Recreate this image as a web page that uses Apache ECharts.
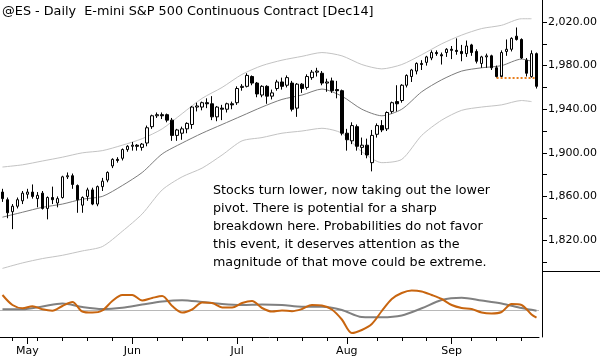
<!DOCTYPE html>
<html><head><meta charset="utf-8">
<script src="https://cdn.jsdelivr.net/npm/echarts@6/dist/echarts.min.js"></script>
<style>html,body{margin:0;padding:0;background:#fff}#c{width:600px;height:360px}</style>
</head><body><div id="c"></div>
<script>
const titleText = '@ES - Daily  E-mini S&P 500 Continuous Contract [Dec14]';
const noteText = 'Stocks turn lower, now taking out the lower\npivot. There is potential for a sharp\nbreakdown here. Probabilities do not favor\nthis event, it deserves attention as the\nmagnitude of that move could be extreme.';

const dates = [
'2014-04-24','2014-04-25','2014-04-28','2014-04-29','2014-04-30',
'2014-05-01','2014-05-02','2014-05-05','2014-05-06','2014-05-07','2014-05-08','2014-05-09','2014-05-12','2014-05-13','2014-05-14','2014-05-15','2014-05-16','2014-05-19','2014-05-20','2014-05-21','2014-05-22','2014-05-23','2014-05-27','2014-05-28','2014-05-29','2014-05-30',
'2014-06-02','2014-06-03','2014-06-04','2014-06-05','2014-06-06','2014-06-09','2014-06-10','2014-06-11','2014-06-12','2014-06-13','2014-06-16','2014-06-17','2014-06-18','2014-06-19','2014-06-20','2014-06-23','2014-06-24','2014-06-25','2014-06-26','2014-06-27','2014-06-30',
'2014-07-01','2014-07-02','2014-07-03','2014-07-07','2014-07-08','2014-07-09','2014-07-10','2014-07-11','2014-07-14','2014-07-15','2014-07-16','2014-07-17','2014-07-18','2014-07-21','2014-07-22','2014-07-23','2014-07-24','2014-07-25','2014-07-28','2014-07-29','2014-07-30','2014-07-31',
'2014-08-01','2014-08-04','2014-08-05','2014-08-06','2014-08-07','2014-08-08','2014-08-11','2014-08-12','2014-08-13','2014-08-14','2014-08-15','2014-08-18','2014-08-19','2014-08-20','2014-08-21','2014-08-22','2014-08-25','2014-08-26','2014-08-27','2014-08-28','2014-08-29',
'2014-09-02','2014-09-03','2014-09-04','2014-09-05','2014-09-08','2014-09-09','2014-09-10','2014-09-11','2014-09-12','2014-09-15','2014-09-16','2014-09-17','2014-09-18','2014-09-19','2014-09-22','2014-09-23','2014-09-24','2014-09-25'];

const opens = [1864,1857,1846,1851,1856,1862,1864,1858,1863,1849,1859,1854,1859,1878,1879,1870,1852,1860,1866,1853,1869,1875,1888,1894,1895,1903,
1906,1907,1905,1909,1924,1934,1935,1935,1930,1916,1918,1922,1926,1942,1942,1946,1945,1933,1941,1940,1945,
1946,1960,1961,1970,1964,1953,1961,1952,1959,1965,1962,1964,1941,1963,1960,1969,1974,1973,1964,1966,1958,1957,
1918,1911,1924,1905,1907,1891,1917,1925,1922,1938,1947,1948,1962,1970,1975,1982,1983,1987,1992,1990,1992,
1995,1994,1993,1991,1999,1993,1982,1988,1989,1978,1970,1993,1995,2007,2004,1985,1970,1991];
const highs = [1867,1859,1853,1859,1865,1867,1871,1864,1865,1860,1869,1860,1879,1882,1881,1871,1860,1868,1868,1870,1877,1883,1895,1896,1904,1907,
1910,1908,1909,1925,1935,1937,1937,1936,1932,1922,1924,1928,1943,1946,1947,1950,1952,1943,1944,1946,1947,
1961,1963,1973,1971,1965,1962,1962,1958,1967,1969,1971,1966,1964,1964,1972,1976,1978,1975,1968,1969,1966,1958,
1922,1928,1926,1914,1913,1921,1927,1930,1938,1947,1962,1963,1972,1977,1983,1985,1989,1994,1994,1992,1996,
1998,2005,1999,2003,2000,1995,1989,1991,1990,1980,1994,2004,2006,2015,2005,1987,1994,1992];
const lows = [1855,1840,1830,1849,1853,1858,1858,1850,1848,1839,1853,1850,1858,1876,1867,1845,1845,1856,1852,1851,1865,1873,1886,1891,1893,1901,
1902,1902,1902,1906,1922,1932,1931,1928,1911,1911,1912,1918,1922,1938,1939,1941,1930,1929,1930,1937,1940,
1944,1957,1960,1962,1951,1951,1945,1949,1957,1958,1960,1938,1933,1955,1958,1967,1970,1962,1956,1955,1950,1916,
1902,1908,1902,1898,1895,1883,1914,1919,1920,1936,1938,1946,1960,1965,1972,1976,1980,1985,1989,1981,1988,
1986,1990,1984,1988,1989,1982,1978,1978,1976,1969,1971,1989,1993,2003,1986,1970,1969,1959];
const closes = [1858,1845,1851,1857,1863,1864,1860,1861,1849,1859,1857,1858,1878,1879,1871,1857,1859,1866,1853,1869,1874,1882,1894,1893,1903,1906,
1907,1906,1908,1923,1934,1935,1934,1930,1916,1921,1922,1927,1942,1943,1946,1945,1933,1942,1940,1945,1944,
1959,1961,1971,1964,1954,1961,1952,1955,1965,1961,1969,1940,1963,1959,1970,1974,1975,1964,1965,1957,1957,1918,
1912,1925,1906,1907,1898,1916,1925,1921,1937,1946,1945,1962,1971,1976,1982,1981,1988,1992,1991,1989,1995,
1994,1993,1991,1998,1992,1984,1988,1989,1978,1970,1992,1995,2005,2004,1987,1973,1991,1961];

// Keltner-style bands, read at every 4th bar
const bandIdx = [0,4,8,12,16,20,24,28,32,36,40,44,48,52,56,60,64,68,72,76,80,84,88,92,96,100,104,106];
const upperBand = [1887,1889,1892.5,1896,1900,1902,1907,1913,1922,1936,1950,1960,1972,1980,1985,1988.5,1992,1989,1981,1977,1981,1990,2000,2008,2014,2017,2023,2023];
const midBand   = [1841,1845.5,1850,1853,1857.5,1860,1870,1882,1899,1909,1918,1926,1934,1942,1949,1953,1958.5,1952,1940,1934,1940,1956,1967,1975,1978,1980,1986,1984];
const lowerBand = [1794,1799,1803,1806,1810,1814,1828,1844,1866,1878,1886,1898,1911,1914,1918,1920,1922.5,1918,1901,1891,1894,1916,1930,1939,1942,1944,1948,1947];

// oscillator panel
const fastIdx = [0,2,4,6,8,10,12,14,16,18,20,22,24,26,28,30,32,34,36,38,40,42,44,46,48,50,52,54,56,58,60,62,64,66,68,70,72,74,76,78,80,82,84,86,88,90,92,94,96,98,100,102,104,106,107];
const fastOsc = [15,5,1.8,3.8,0.7,-0.7,4,8,-1.5,-2.6,-0.5,9,15,15,9.5,12,14,4,-2.5,0.5,7.5,7,2.5,2.5,7,9,2,-1.5,-0.5,-1.2,1,5,4.5,0.5,-9.5,-23,-20,-14,-1,11,17,19.5,18.5,15,11,5,2,1,-2.5,-3.5,-2,6,5,-4.5,-7.7];
const slowIdx = [0,4,8,12,16,20,24,28,32,36,40,44,48,52,56,60,64,68,72,76,80,84,88,92,96,100,104,107];
const slowOsc = [0.7,0.7,3.5,6.5,3,1,2.3,5.5,8.5,9.8,8,6,5,5.5,5,3.3,3.3,0,-7,-7.3,-5.5,1.7,10,12.3,9.5,6.5,2,-0.7];
const oscMin = -27, oscMax = 39;

// pivot line
const pivotLevel = 1969;
const pivotFrom = '2014-09-15';
const pivotTo = '2014-09-25';

// axis ticks
const monthTickDates = ['2014-05-01','2014-06-02','2014-07-01','2014-08-01','2014-09-02'];
const monthTickLabels = ['May','Jun','Jul','Aug','Sep'];
const weekTickDates = ['2014-04-28','2014-05-05','2014-05-12','2014-05-19','2014-05-27','2014-06-09','2014-06-16','2014-06-23','2014-07-07','2014-07-14','2014-07-21','2014-07-28','2014-08-11','2014-08-18','2014-08-25','2014-09-08','2014-09-15','2014-09-22'];
const priceLabelTicks = [1820,1860,1900,1940,1980,2020];
const priceMinorTicks = [1800,1820,1840,1860,1880,1900,1920,1940,1960,1980,2000,2020];

const FONT = 'DejaVu Sans';
const monthSet = new Set(monthTickDates.map(d => dates.indexOf(d)));
const weekSet = new Set(weekTickDates.map(d => dates.indexOf(d)));
const pairs = (idx, vals) => idx.map((k, j) => [dates[k], vals[j]]);
const fmt = v => Number(v).toLocaleString('en-US', {minimumFractionDigits: 2, maximumFractionDigits: 2});

const chart = echarts.init(document.getElementById('c'), null, {renderer: 'canvas'});
chart.setOption({
  animation: false,
  backgroundColor: '#fff',
  title: {text: titleText, left: 2, top: 3, padding: 0,
    textStyle: {fontFamily: FONT, fontSize: 12.8, fontWeight: 'normal', color: '#000', lineHeight: 18}},
  graphic: [{type: 'text', left: 213, top: 182, silent: true,
    style: {text: noteText, font: '12.7px "DejaVu Sans"', fill: '#000', lineHeight: 18}}],
  grid: [
    {left: -1, width: 540, top: 0, height: 271},
    {left: -1, width: 540, top: 271, height: 66}
  ],
  xAxis: [
    {type: 'category', gridIndex: 0, data: dates, show: false},
    {type: 'category', gridIndex: 1, data: dates, position: 'bottom', show: true,
      axisLine: {show: true, onZero: false, lineStyle: {color: '#000', width: 1, type: 'solid', opacity: 1}},
      axisTick: {show: true, interval: i => monthSet.has(i), alignWithLabel: true, length: 7, lineStyle: {color: '#000', width: 1}},
      axisLabel: {show: true, interval: i => monthSet.has(i), formatter: v => monthTickLabels[monthTickDates.indexOf(v)],
        color: '#000', fontFamily: FONT, fontSize: 11, margin: 9},
      splitLine: {show: false}},
    {type: 'category', gridIndex: 1, data: dates, position: 'bottom', show: true,
      axisLine: {show: false, onZero: false},
      axisTick: {show: true, interval: i => weekSet.has(i), alignWithLabel: true, length: 4, lineStyle: {color: '#000', width: 1}},
      axisLabel: {show: false}, splitLine: {show: false}}
  ],
  yAxis: [
    {type: 'value', gridIndex: 0, position: 'right', offset: 3, min: 1791.6, max: 2040.2,
      axisLine: {show: true, lineStyle: {color: '#000'}},
      axisTick: {show: true, customValues: priceMinorTicks, length: 5, lineStyle: {color: '#000'}},
      axisLabel: {customValues: priceLabelTicks, formatter: fmt, color: '#000', fontFamily: FONT, fontSize: 11, margin: 6},
      splitLine: {show: false}},
    {type: 'value', gridIndex: 1, position: 'right', offset: 3, min: oscMin, max: oscMax,
      axisLine: {show: true, lineStyle: {color: '#000'}},
      axisTick: {show: true, customValues: [oscMax], length: 58, lineStyle: {color: '#000'}},
      axisLabel: {show: false}, splitLine: {show: false}}
  ],
  series: [
    {type: 'line', name: 'upper', xAxisIndex: 0, yAxisIndex: 0, data: pairs(bandIdx, upperBand),
      showSymbol: false, smooth: 0.25, lineStyle: {color: '#c3c3c3', width: 1}, z: 1, silent: true},
    {type: 'line', name: 'mid', xAxisIndex: 0, yAxisIndex: 0, data: pairs(bandIdx, midBand),
      showSymbol: false, smooth: 0.25, lineStyle: {color: '#7c7c7c', width: 1}, z: 1, silent: true},
    {type: 'line', name: 'lower', xAxisIndex: 0, yAxisIndex: 0, data: pairs(bandIdx, lowerBand),
      showSymbol: false, smooth: 0.25, lineStyle: {color: '#c3c3c3', width: 1}, z: 1, silent: true},
    {type: 'candlestick', name: 'ES', xAxisIndex: 0, yAxisIndex: 0,
      data: dates.map((d, i) => [opens[i], closes[i], lows[i], highs[i]]),
      barWidth: 3, z: 3,
      itemStyle: {color: '#fff', color0: '#000', borderColor: '#000', borderColor0: '#000', borderColorDoji: '#000', borderWidth: 1},
      markLine: {silent: true, symbol: ['none', 'none'], label: {show: false},
        lineStyle: {color: '#e8801f', type: [2, 2], width: 2},
        data: [[{coord: [pivotFrom, pivotLevel]}, {coord: [pivotTo, pivotLevel]}]]}},
    {type: 'line', name: 'slow', xAxisIndex: 1, yAxisIndex: 1, data: pairs(slowIdx, slowOsc),
      showSymbol: false, smooth: 0.3, lineStyle: {color: '#808080', width: 2}, z: 2, silent: true,
      markLine: {silent: true, symbol: ['none', 'none'], label: {show: false}, z: 1,
        data: [{yAxis: 0, lineStyle: {color: '#b8b8b8', type: 'solid', width: 1}}]}},
    {type: 'line', name: 'fast', xAxisIndex: 1, yAxisIndex: 1, data: pairs(fastIdx, fastOsc),
      showSymbol: false, smooth: 0.3, lineStyle: {color: '#c8650f', width: 2}, z: 3, silent: true}
  ]
});
</script></body></html>
